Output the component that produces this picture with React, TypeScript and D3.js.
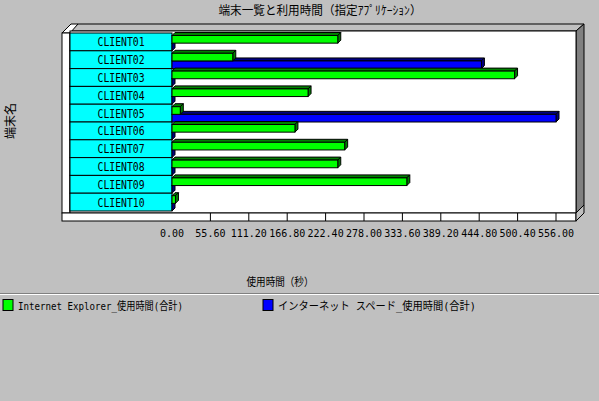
import * as d3 from "d3";

// categories and series
const clients = [
  "CLIENT01", "CLIENT02", "CLIENT03", "CLIENT04", "CLIENT05",
  "CLIENT06", "CLIENT07", "CLIENT08", "CLIENT09", "CLIENT10",
];
const seriesNames = [
  "Internet Explorer_使用時間(合計)",
  "インターネット スペード_使用時間(合計)",
];
// seconds
const ieTime = [240, 88, 496, 197, 12, 178, 250, 240, 340, 5];
const speedTime = [0, 448, 0, 0, 556, 0, 0, 0, 0, 0];
const tickValues = [0, 55.6, 111.2, 166.8, 222.4, 278, 333.6, 389.2, 444.8, 500.4, 556];

const title = "端末一覧と利用時間（指定ｱﾌﾟﾘｹｰｼｮﾝ）";
const xTitle = "使用時間（秒）";
const yTitle = "端末名";

const W = 599;
const H = 401;
const mono = "'DejaVu Sans Mono', 'Noto Sans CJK JP', monospace";
const jp = "'Noto Sans CJK JP', sans-serif";

const frontColors = ["#00ff00", "#0000ff"];
const shadeColors = ["#008000", "#000080"];

export default function App() {
  const x = d3.scaleLinear().domain([0, 556]).range([172, 556]);
  const y = d3.scaleBand<string>().domain(clients).range([33, 211]);
  const sub = d3
    .scaleBand<number>()
    .domain([0, 1])
    .range([2.5, y.bandwidth()]);
  const depth = 3;
  const values = [ieTime, speedTime];

  // one 3D bar: top face, side face, front face
  const bar = (v: number, top: number, s: number, key: string) => {
    const x0 = x(0);
    const x1 = x(v);
    const h = sub.bandwidth();
    const topFace = [
      [x0, top], [x0 + depth, top - depth], [x1 + depth, top - depth], [x1, top],
    ];
    const sideFace = [
      [x1, top], [x1 + depth, top - depth], [x1 + depth, top + h - depth], [x1, top + h],
    ];
    return (
      <g key={key} stroke="#000" strokeWidth={1}>
        <polygon points={topFace.join(" ")} fill={shadeColors[s]} />
        <polygon points={sideFace.join(" ")} fill={shadeColors[s]} />
        <rect x={x0} y={top} width={x1 - x0} height={h} fill={frontColors[s]} />
      </g>
    );
  };

  return (
    <svg
      width={W}
      height={H}
      style={{ position: "absolute", left: 0, top: 0 }}
    >
      <rect width={W} height={H} fill="#c0c0c0" />

      {/* title */}
      <text x={320} y={15} textAnchor="middle" fontFamily={jp} fontSize={12}
        textLength={203} lengthAdjust="spacingAndGlyphs" fill="#000">
        {title}
      </text>

      {/* 3D box */}
      <g stroke="#000" strokeWidth={1}>
        <polygon points="70,31 78,24 584,24 576,31" fill="#c0c0c0" />
        <polygon points="62,33 71,24 78,24 70,33" fill="#fff" />
        <polygon points="576,31 584,24 584,205 576,213" fill="#808080" />
        <rect x={62} y={33} width={8} height={180} fill="#fff" />
        <rect x={70} y={31} width={506} height={182} fill="#fff" />
        <rect x={62} y={213} width={514} height={8} fill="#fff" />
        <polygon points="576,213 584,205 584,213 576,221" fill="#c0c0c0" />
      </g>

      {/* category cells */}
      <g>
        {clients.map((c) => (
          <g key={c}>
            <rect x={70} y={y(c)} width={102} height={y.bandwidth()}
              fill="#00ffff" stroke="#000" />
            <text x={121} y={y(c)! + y.bandwidth() / 2 + 4.5} textAnchor="middle"
              fontFamily={mono} fontSize={12} textLength={47}
              lengthAdjust="spacingAndGlyphs" fill="#000">
              {c}
            </text>
          </g>
        ))}
      </g>

      {/* bars: blue behind green in each row */}
      <g>
        {clients.map((c, i) => (
          <g key={c}>
            {bar(values[1][i], y(c)! + sub(1)!, 1, c + "b")}
            {bar(values[0][i], y(c)! + sub(0)!, 0, c + "g")}
          </g>
        ))}
      </g>

      {/* ticks on the floor strip */}
      <g stroke="#000">
        {tickValues.filter((t) => t > 0).map((t) => (
          <line key={t} x1={x(t)} x2={x(t)} y1={213} y2={221} />
        ))}
      </g>
      <g fontFamily={mono} fontSize={10} fill="#000">
        {tickValues.map((t) => (
          <text key={t} x={x(t)} y={236.5} textAnchor="middle">
            {t.toFixed(2)}
          </text>
        ))}
      </g>

      {/* axis titles */}
      <text x={280} y={286} textAnchor="middle" fontFamily={jp} fontSize={11}
        textLength={67} lengthAdjust="spacingAndGlyphs" fill="#000">
        {xTitle}
      </text>
      <text transform="translate(15,121) rotate(-90)" textAnchor="middle"
        fontFamily={jp} fontSize={12} fill="#000">
        {yTitle}
      </text>

      {/* separator */}
      <line x1={0} x2={W} y1={293.5} y2={293.5} stroke="#808080" />
      <line x1={0} x2={W} y1={294.5} y2={294.5} stroke="#fff" />

      {/* legend */}
      <g>
        {seriesNames.map((n, s) => {
          const lx = s === 0 ? 3 : 263;
          const tl = s === 0 ? 165 : 198;
          return (
            <g key={n}>
              <rect x={lx} y={299.5} width={10} height={11}
                fill={frontColors[s]} stroke="#000" />
              <text x={lx + 15} y={309.5} fontFamily={mono} fontSize={11}
                textLength={tl} lengthAdjust="spacingAndGlyphs" fill="#000">
                {n}
              </text>
            </g>
          );
        })}
      </g>
    </svg>
  );
}
